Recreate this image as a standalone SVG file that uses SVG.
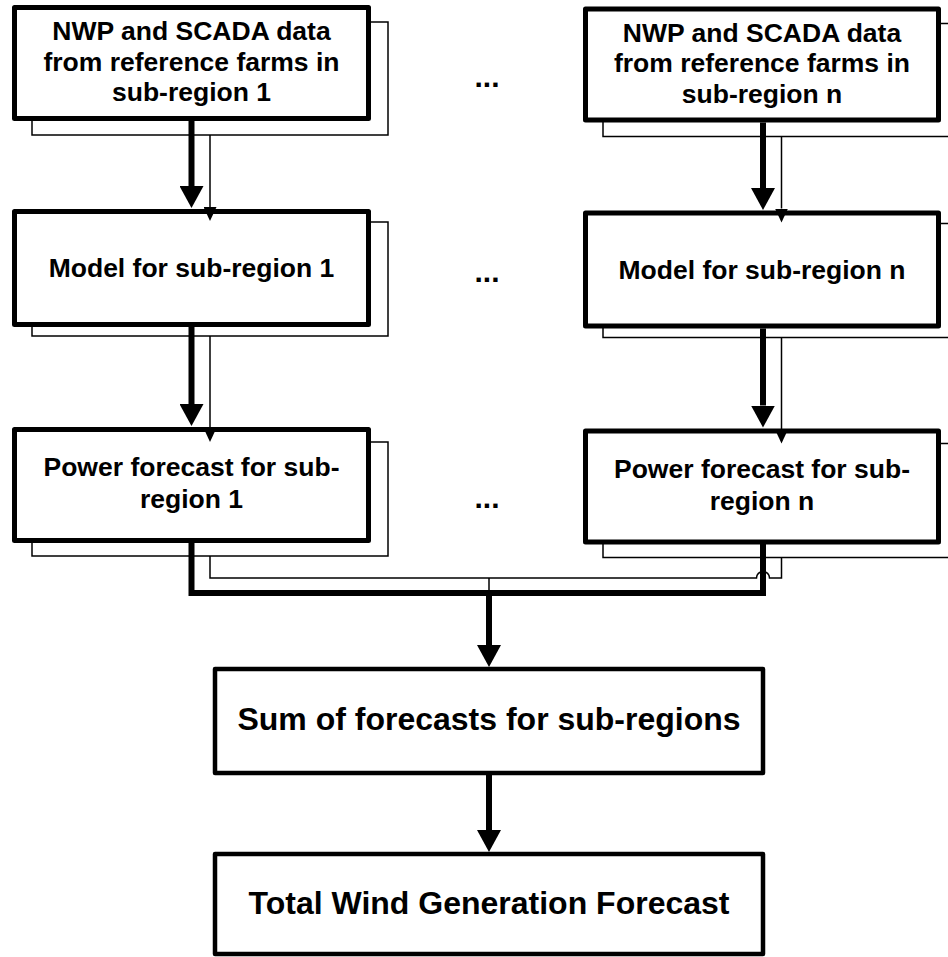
<svg xmlns="http://www.w3.org/2000/svg" width="948" height="957" viewBox="0 0 948 957">
<style>
.bg{fill:#fff}
.front{fill:#fff;stroke:#000;stroke-width:5;stroke-linejoin:round}
.front2{fill:#fff;stroke:#000;stroke-width:4.5;stroke-linejoin:round}
.shadow{fill:#fff;stroke:#000;stroke-width:1.5}
.thick{fill:none;stroke:#000;stroke-width:6}
.thin{fill:none;stroke:#000;stroke-width:1.5}
.t{font-family:"Liberation Sans",Arial,sans-serif;font-weight:bold;font-size:26.5px;text-anchor:middle;fill:#000}
.dots{font-family:"Liberation Sans",Arial,sans-serif;font-weight:bold;font-size:30px;text-anchor:middle;fill:#000}
.tb{font-family:"Liberation Sans",Arial,sans-serif;font-weight:bold;font-size:32px;text-anchor:middle;fill:#000}
</style>
<defs>
<marker id="ahThick" markerUnits="userSpaceOnUse" viewBox="0 0 22 24" refX="0" refY="12" markerWidth="22" markerHeight="24" orient="auto"><path d="M0,0 L22,12 L0,24 z" fill="#000"/></marker>
<marker id="ahThin" markerUnits="userSpaceOnUse" viewBox="0 0 14 13" refX="0" refY="6.5" markerWidth="14" markerHeight="13" orient="auto"><path d="M0,0 L14,6.5 L0,13 z" fill="#000"/></marker>
</defs>
<rect class="bg" x="0" y="0" width="948" height="957"/>

<g id="data1">
<rect class="shadow" x="32" y="22" width="356" height="113"/>
<rect class="front" x="14.5" y="7.5" width="354" height="111"/>
<text class="t" x="191.5" y="40">NWP and SCADA data</text>
<text class="t" x="191.5" y="70.5">from reference farms in</text>
<text class="t" x="191.5" y="101">sub-region 1</text>
</g>
<g id="model1">
<rect class="shadow" x="32" y="222" width="356" height="114"/>
<rect class="front" x="14.5" y="211.5" width="354" height="113"/>
<text class="t" x="191.5" y="277">Model for sub-region 1</text>
</g>
<g id="power1">
<rect class="shadow" x="32" y="442" width="356" height="114"/>
<rect class="front" x="14.5" y="429.5" width="354" height="111"/>
<text class="t" x="191.5" y="476">Power forecast for sub-</text>
<text class="t" x="191.5" y="508">region 1</text>
</g>

<g id="dataN">
<rect class="shadow" x="603" y="23.5" width="356" height="113"/>
<rect class="front" x="585.5" y="9" width="353" height="111"/>
<text class="t" x="762" y="41.5">NWP and SCADA data</text>
<text class="t" x="762" y="72">from reference farms in</text>
<text class="t" x="762" y="102.5">sub-region n</text>
</g>
<g id="modelN">
<rect class="shadow" x="603" y="223.5" width="356" height="114"/>
<rect class="front" x="585.5" y="213" width="353" height="113"/>
<text class="t" x="762" y="278.5">Model for sub-region n</text>
</g>
<g id="powerN">
<rect class="shadow" x="603" y="443.5" width="356" height="114"/>
<rect class="front" x="585.5" y="431" width="353" height="111"/>
<text class="t" x="762" y="477.5">Power forecast for sub-</text>
<text class="t" x="762" y="509.5">region n</text>
</g>

<g id="ellipses">
<text class="dots" x="487" y="87">...</text>
<text class="dots" x="487" y="282">...</text>
<text class="dots" x="487" y="508">...</text>
</g>

<g id="sum">
<rect class="front2" x="215" y="669" width="548" height="104"/>
<text class="tb" x="489" y="730">Sum of forecasts for sub-regions</text>
</g>
<g id="total">
<rect class="front2" x="215" y="854" width="548" height="100"/>
<text class="tb" x="489" y="914">Total Wind Generation Forecast</text>
</g>

<g id="connectors">
<line class="thick" x1="191.5" y1="121" x2="191.5" y2="186" marker-end="url(#ahThick)"/>
<line class="thin" x1="210" y1="135" x2="210" y2="207" marker-end="url(#ahThin)"/>
<line class="thick" x1="191.5" y1="327" x2="191.5" y2="404" marker-end="url(#ahThick)"/>
<line class="thin" x1="210" y1="336" x2="210" y2="428" marker-end="url(#ahThin)"/>

<line class="thick" x1="763" y1="122.5" x2="763" y2="188" marker-end="url(#ahThick)"/>
<line class="thin" x1="781.5" y1="136.5" x2="781.5" y2="208.5" marker-end="url(#ahThin)"/>
<line class="thick" x1="763" y1="328.5" x2="763" y2="405.5" marker-end="url(#ahThick)"/>
<line class="thin" x1="781.5" y1="337.5" x2="781.5" y2="429.5" marker-end="url(#ahThin)"/>

<path class="thin" d="M210,556 V578 H756.5 A6.5,6.5 0 0 1 769.5,578 H781.5 V557.5"/>
<line class="thin" x1="489" y1="578" x2="489" y2="593"/>
<path class="thick" d="M191.5,543 V593 H763 V544"/>
<line class="thick" x1="489" y1="593" x2="489" y2="645" marker-end="url(#ahThick)"/>
<line class="thick" x1="489" y1="775" x2="489" y2="830" marker-end="url(#ahThick)"/>
</g>
</svg>
